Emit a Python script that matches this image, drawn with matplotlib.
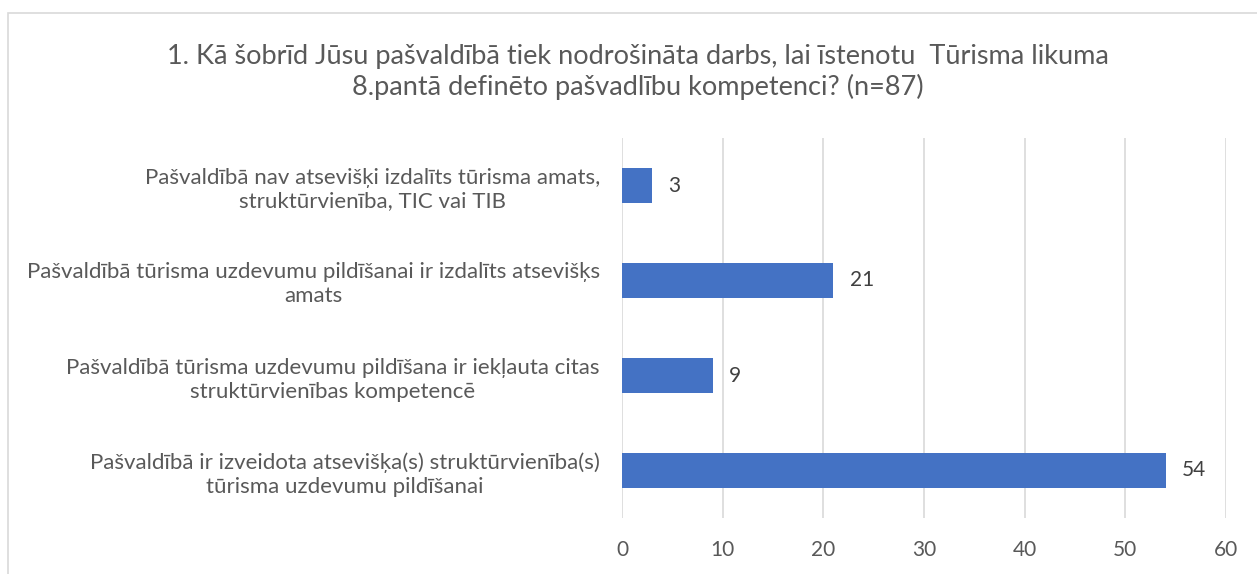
import matplotlib.pyplot as plt
from matplotlib.patches import Rectangle

plt.rcParams['font.family'] = ['Lato', 'DejaVu Sans']

# Dati (no apakšas uz augšu)
categories = [
    "Pašvaldībā ir izveidota atsevišķa(s) struktūrvienība(s)\ntūrisma uzdevumu pildīšanai",
    "Pašvaldībā tūrisma uzdevumu pildīšana ir iekļauta citas\nstruktūrvienības kompetencē",
    "Pašvaldībā tūrisma uzdevumu pildīšanai ir izdalīts atsevišķs\namats",
    "Pašvaldībā nav atsevišķi izdalīts tūrisma amats,\nstruktūrvienība, TIC vai TIB",
]
values = [54, 9, 21, 3]
ticks = [0, 10, 20, 30, 40, 50, 60]
title = ("1. Kā šobrīd Jūsu pašvaldībā tiek nodrošināta darbs, lai īstenotu  Tūrisma likuma\n"
         "8.pantā definēto pašvadlību kompetenci? (n=87)")

text_col = '#595959'
grid_col = '#D9D9D9'

fig = plt.figure(figsize=(12.57, 5.74), dpi=100)
# rāmis ap diagrammu
fig.patches.append(Rectangle((8 / 1257, -0.1), 1.2, 1 - 13 / 574 + 0.1,
                             transform=fig.transFigure, fill=False,
                             edgecolor=grid_col, linewidth=1.2))

ax = fig.add_axes([622 / 1257, 56 / 574, 604 / 1257, 380 / 574])
y = range(len(values))
bars = ax.barh(y, values, height=0.36, color='#4472C4', zorder=3)
for b, v in zip(bars, values):
    ax.text(v + 1.6, b.get_y() + b.get_height() / 2, str(v), va='center', ha='left',
            fontsize=15, color='#404040')

ax.set_xlim(0, 60)
ax.set_ylim(-0.5, 3.5)
ax.set_xticks(ticks)
ax.set_xticklabels([str(t) for t in ticks], fontsize=15, color=text_col)
ax.set_yticks(list(y))
ax.set_yticklabels(categories, fontsize=16, color=text_col, multialignment='center',
                   linespacing=1.25)
ax.tick_params(axis='both', length=0)
ax.tick_params(axis='x', pad=16)
ax.tick_params(axis='y', pad=16)
ax.grid(axis='x', color=grid_col, linewidth=1.2, zorder=0)
for s in ax.spines.values():
    s.set_visible(False)

fig.text(638 / 1257, 1 - 72 / 574, title, ha='center', va='center', fontsize=19.5,
         color=text_col, linespacing=1.25)

fig.savefig('out.png', dpi=100)
